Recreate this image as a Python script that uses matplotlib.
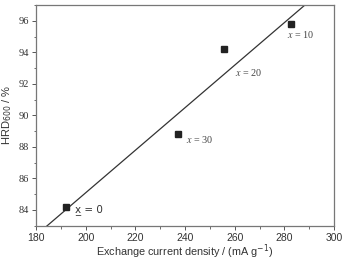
import numpy as np
import matplotlib
matplotlib.use("Agg")
import matplotlib.pyplot as plt
from matplotlib.ticker import MultipleLocator

# --- data ---
current = [192.0, 237.3, 255.7, 282.8]
hrd = [84.2, 88.8, 94.2, 95.8]
labels = ["x = 0", "x = 30", "x = 20", "x = 10"]
label_pos = [(195.7, 84.0), (240.3, 88.5), (260.1, 92.7), (281.1, 95.1)]

fig = plt.figure(figsize=(3.43, 2.61), dpi=100)
ax = fig.add_axes([0.105, 0.135, 0.869, 0.846])

ax.plot(current, hrd, "s", color="#222222", markersize=4.5, zorder=3)

# linear fit
k, b = np.polyfit(current, hrd, 1)
xf = np.array([175, 300])
ax.plot(xf, k * xf + b, color="#333333", lw=0.9)

for i, (t, (px, py)) in enumerate(zip(labels, label_pos)):
    if i == 0:
        ax.text(px, py, "x\u0332 = 0", fontsize=7.5, family="DejaVu Sans",
                va="center", ha="left", color="#333333")
    else:
        ax.text(px, py, "$x$" + t[1:], fontsize=7.3, family="Liberation Serif",
                va="center", ha="left", color="#444444",
                math_fontfamily="stix")

ax.set_xlim(180, 300)
ax.set_ylim(83, 97)
ax.xaxis.set_major_locator(MultipleLocator(20))
ax.xaxis.set_minor_locator(MultipleLocator(10))
ax.yaxis.set_major_locator(MultipleLocator(2))
ax.yaxis.set_minor_locator(MultipleLocator(1))
ax.tick_params(which="both", direction="out", color="#555555")
ax.tick_params(which="major", length=3, width=0.7)
ax.tick_params(which="minor", length=1.8, width=0.6)
ax.tick_params(axis="x", labelsize=7.5, labelcolor="#333333", pad=2)
ax.tick_params(axis="y", labelsize=7.5, labelcolor="#333333", pad=2)
for lab in ax.get_xticklabels():
    lab.set_family("Liberation Sans")
for lab in ax.get_yticklabels():
    lab.set_family("Liberation Serif")
for s in ax.spines.values():
    s.set_color("#777777")
    s.set_linewidth(0.9)

ax.set_xlabel("Exchange current density / (mA g$^{-1}$)", fontsize=7.8,
              family="Liberation Sans", color="#333333", labelpad=0)
ax.set_ylabel("HRD$_{600}$ / %", fontsize=8, family="Liberation Sans",
              color="#333333", labelpad=3)

fig.savefig("out.png", dpi=100)
